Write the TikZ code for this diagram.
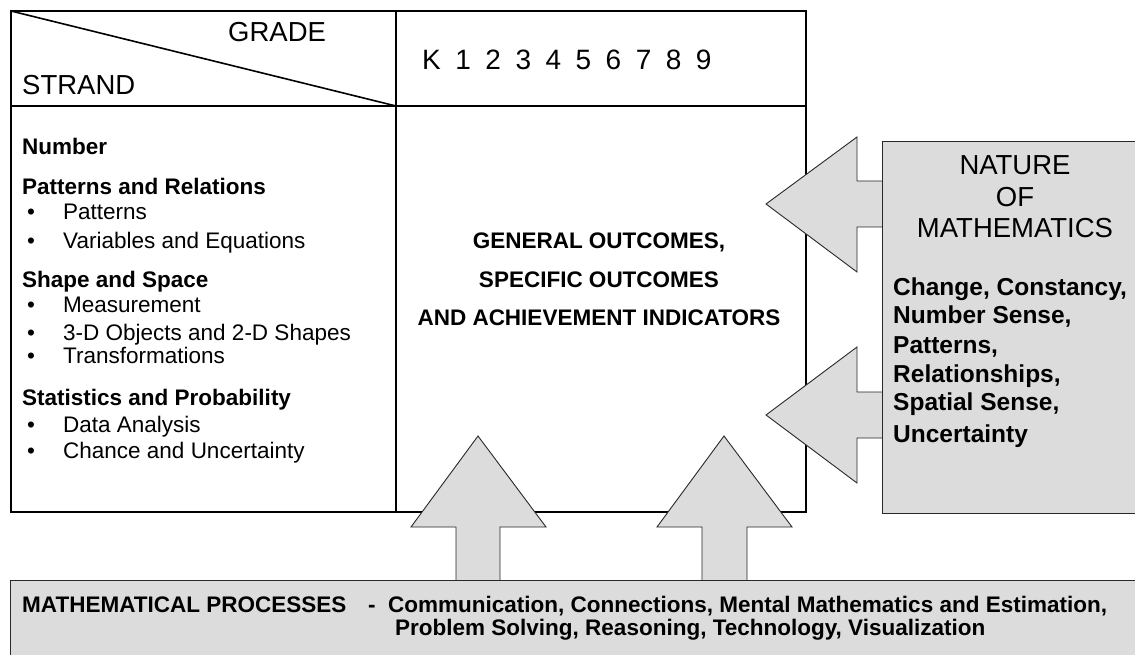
\documentclass[tikz,border=0pt]{standalone}
\usepackage{fontspec}
\setmainfont{Liberation Sans}
\usepackage{tikz}
\usetikzlibrary{positioning}
\definecolor{panelgray}{RGB}{220,220,220}
\definecolor{edgegray}{RGB}{40,40,40}
\tikzstyle{grid}=[draw=black, line width=1.6pt]
\tikzstyle{panel}=[draw=edgegray, fill=panelgray, line width=1pt]
\tikzstyle{bigarrow}=[draw=edgegray, fill=panelgray, line width=0.9pt, line join=miter]
\tikzstyle{title}=[inner sep=0pt, anchor=base west, font=\fontsize{27.5}{32}\selectfont]
\tikzstyle{heading}=[inner sep=0pt, anchor=base west, font=\fontsize{22.5}{26}\selectfont\bfseries]
\tikzstyle{entry}=[inner sep=0pt, anchor=base west, font=\fontsize{22.5}{26}\selectfont]
\tikzstyle{outcome}=[inner sep=0pt, anchor=base, font=\fontsize{22.5}{26}\selectfont\bfseries]
\tikzstyle{idea}=[inner sep=0pt, anchor=base west, font=\fontsize{24.5}{28}\selectfont\bfseries]
\tikzstyle{process}=[inner sep=0pt, anchor=base west, font=\fontsize{22.5}{26}\selectfont\bfseries]
\newcommand{\dotitem}[1]{\makebox[36pt][l]{\textbullet}#1}

\begin{document}
\begin{tikzpicture}[x=1pt, y=-1pt]
    \clip (0,0) rectangle (1135,655);
    \fill[white] (0,0) rectangle (1135,655);

    % table
    \draw[grid] (11,11) rectangle (806,512);
    \draw[grid] (11,106) -- (806,106);
    \draw[grid] (396,11) -- (396,512);
    \draw[grid] (11,11) -- (396,106);

    \node[title] (grade) at (228,42) {GRADE};
    \node[title] (strand) at (22,95) {STRAND};
    \node[title, font=\fontsize{28}{32}\selectfont] (grades) at (422,70)
        {\spaceskip=14.5pt K 1 2 3 4 5 6 7 8 9};

    % strands
    \node[heading] (number) at (22,155) {Number};
    \node[heading] (patrel) at (22,195) {Patterns and Relations};
    \node[entry] (patterns) at (27,220) {\dotitem{Patterns}};
    \node[entry] (variables) at (27,248) {\dotitem{Variables and Equations}};
    \node[heading] (shape) at (22,287) {Shape and Space};
    \node[entry] (measure) at (27,312) {\dotitem{Measurement}};
    \node[entry] (objects) at (27,340) {\dotitem{3-D Objects and 2-D Shapes}};
    \node[entry] (transf) at (27,363) {\dotitem{Transformations}};
    \node[heading] (stats) at (22,405) {Statistics and Probability};
    \node[entry] (data) at (27,432) {\dotitem{Data Analysis}};
    \node[entry] (chance) at (27,458) {\dotitem{Chance and Uncertainty}};

    \node[outcome] (general) at (599,248) {GENERAL OUTCOMES,};
    \node[outcome] (specific) at (599,287) {SPECIFIC OUTCOMES};
    \node[outcome] (achieve) at (599,325) {AND ACHIEVEMENT INDICATORS};

    % block arrows
    \filldraw[bigarrow] (882,181) -- (857,181) -- (857,137) -- (766,204)
        -- (857,272) -- (857,227) -- (882,227);
    \filldraw[bigarrow] (882,392) -- (857,392) -- (857,347) -- (766,415)
        -- (857,483) -- (857,438) -- (882,438);
    \filldraw[bigarrow] (456,580) -- (456,527) -- (411,527) -- (478,436)
        -- (546,527) -- (500,527) -- (500,580);
    \filldraw[bigarrow] (702,580) -- (702,527) -- (657,527) -- (724,436)
        -- (792,527) -- (747,527) -- (747,580);

    % panels
    \node[panel, anchor=north west, minimum width=270pt, minimum height=372pt] (naturebox) at (882,141) {};
    \node[panel, anchor=north west, minimum width=1140pt, minimum height=90pt] (processbox) at (10,580) {};

    \node[title, anchor=base] (nature) at (1015,175) {NATURE};
    \node[title, anchor=base] (of) at (1015,207) {OF};
    \node[title, anchor=base] (maths) at (1015,237) {MATHEMATICS};
    \node[idea] (change) at (893,295) {Change, Constancy,};
    \node[idea] (sense) at (893,323) {Number Sense,};
    \node[idea] (pats) at (893,353) {Patterns,};
    \node[idea] (relations) at (893,382) {Relationships,};
    \node[idea] (spatial) at (893,410) {Spatial Sense,};
    \node[idea] (uncertain) at (893,442) {Uncertainty};

    \node[process] (processes) at (22,612) {MATHEMATICAL PROCESSES};
    \node[process] (dash) at (368,612) {-};
    \node[process] (proclist) at (388,612) {Communication, Connections, Mental Mathematics and Estimation,};
    \node[process] (proclisttwo) at (395,635) {Problem Solving, Reasoning, Technology, Visualization};
\end{tikzpicture}
\end{document}
